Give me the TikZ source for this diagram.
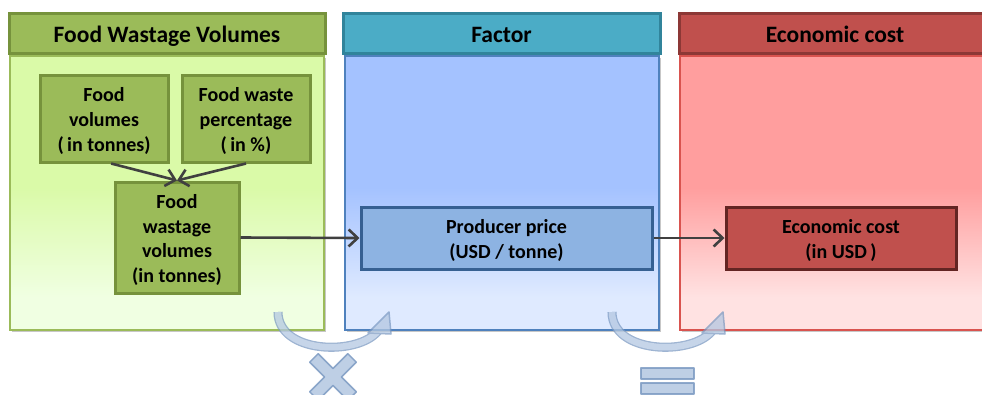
\documentclass[tikz,border=0pt]{standalone}
\usepackage{fontspec}
\setmainfont{Carlito}
\usetikzlibrary{arrows.meta,shadows}

% column palettes
\definecolor{grHead}{HTML}{9BBB59}
\definecolor{grHeadB}{HTML}{76923C}
\definecolor{grTop}{HTML}{DAFAA8}
\definecolor{grBot}{HTML}{F0FFE2}
\definecolor{grLine}{HTML}{9BBB59}
\definecolor{blHead}{HTML}{4BACC6}
\definecolor{blHeadB}{HTML}{31849B}
\definecolor{blTop}{HTML}{A4C2FF}
\definecolor{blBot}{HTML}{DFEAFF}
\definecolor{blLine}{HTML}{4F81BD}
\definecolor{blBox}{HTML}{8DB3E2}
\definecolor{blBoxB}{HTML}{366092}
\definecolor{rdHead}{HTML}{C0504D}
\definecolor{rdHeadB}{HTML}{8C3836}
\definecolor{rdTop}{HTML}{FF9E9E}
\definecolor{rdBot}{HTML}{FFE2E2}
\definecolor{rdLine}{HTML}{D9534F}
\definecolor{rdBoxB}{HTML}{632523}
\definecolor{connC}{HTML}{404040}
\definecolor{symFill}{HTML}{B3C7E1}
\definecolor{symLine}{HTML}{7D9BC3}

% body shadings: flat upper half, fading lighter towards the bottom
% (the path is mapped onto 25bp..75bp of the 100bp shading)
\pgfdeclareverticalshading{greenfade}{100bp}{color(0bp)=(grBot); color(31bp)=(grBot); color(51bp)=(grTop); color(100bp)=(grTop)}
\pgfdeclareverticalshading{bluefade}{100bp}{color(0bp)=(blBot); color(31bp)=(blBot); color(51bp)=(blTop); color(100bp)=(blTop)}
\pgfdeclareverticalshading{redfade}{100bp}{color(0bp)=(rdBot); color(31bp)=(rdBot); color(51bp)=(rdTop); color(100bp)=(rdTop)}

\tikzset{
  softshadow/.style={drop shadow={shadow xshift=1.5pt,shadow yshift=-2pt,opacity=0.22,fill=black}},
  header/.style={draw=#1, line width=3pt, rectangle, inner sep=0pt,
    font=\fontsize{23.5}{28}\selectfont\bfseries, text=black,
    text height=20pt, text depth=2pt},
  colbody/.style={rectangle, line width=1.5pt, inner sep=0pt, softshadow},
  itembox/.style={rectangle, line width=3pt, inner sep=0pt, softshadow},
  itemtext/.style={inner sep=0pt, align=center, yshift=-2.5pt,
    font=\fontsize{20}{24.6}\selectfont\bfseries, text=black},
  conn/.style={draw=connC, line width=2.6pt, -{Straight Barb[length=9pt,width=17pt]}},
  opsym/.style={draw=symLine, fill=symFill, line width=1.5pt, line join=round},
  curvshaft/.style={draw=symLine, line width=1.3pt, double=symFill, double distance=6.5pt},
}

\begin{document}
\begin{tikzpicture}[x=1pt,y=-1pt]
\useasboundingbox (0,0) rectangle (982,394);

% ---- column backgrounds ----
\node[colbody, draw=grLine, shading=greenfade,
      minimum width=314pt, minimum height=274pt] (gbody) at (167,193) {};
\node[colbody, draw=blLine, shading=bluefade,
      minimum width=314pt, minimum height=274pt] (bbody) at (502,193) {};
\node[colbody, draw=rdLine, shading=redfade,
      minimum width=316pt, minimum height=274pt] (rbody) at (838,193) {};

% ---- column headers ----
\node[header=grHeadB, fill=grHead, minimum width=316pt, minimum height=40pt] (ghead) at (167,33.5) {Food Wastage Volumes};
\node[header=blHeadB, fill=blHead, minimum width=317pt, minimum height=40pt] (bhead) at (501.5,33.5) {Factor};
\node[header=rdHeadB, fill=rdHead, minimum width=318pt, minimum height=40pt] (rhead) at (838,33.5) {\hspace*{-6pt}Economic cost};

% ---- item boxes ----
\node[itembox, draw=grHeadB, fill=grHead, minimum width=128pt, minimum height=87pt] (fv) at (104,118.5) {};
\node[itembox, draw=grHeadB, fill=grHead, minimum width=128pt, minimum height=87pt] (fp) at (246,118.5) {};
\node[itembox, draw=grHeadB, fill=grHead, minimum width=124pt, minimum height=111pt] (fwv) at (177,237.5) {};
\node[itembox, draw=blBoxB, fill=blBox, minimum width=291pt, minimum height=62pt] (pp) at (506.5,238) {};
\node[itembox, draw=rdBoxB, fill=rdHead, minimum width=230pt, minimum height=62pt] (ec) at (841,238) {};

% ---- item labels ----
\node[itemtext] (fvt) at (fv) {Food\\volumes\\(\,in tonnes)};
\node[itemtext] (fpt) at (fp) {Food waste\\percentage\\(\,in \%)};
\node[itemtext] (fwvt) at (fwv) {Food\\wastage\\volumes\\(in tonnes)};
\node[itemtext] (ppt) at (pp) {Producer price\\(USD / tonne)};
\node[itemtext] (ect) at (ec) {Economic cost\\(in USD\,)};

% ---- connectors ----
\draw[conn] (fv.-81) -- (fwv.north);
\draw[conn] (fp.south) -- (fwv.north);
\draw[conn] (fwv.east) -- (pp.west);
\draw[conn] (pp.east) -- (ec.west);

% ---- curved operator arrows ----
\begin{scope}[opacity=0.75, transparency group]
  \draw[curvshaft] (278,312) .. controls (278,354) and (358,356) .. (378,331);
  \draw[opsym] (368,333) -- (389,312) -- (391,334) -- cycle;
\end{scope}
\begin{scope}[opacity=0.75, transparency group, xshift=334pt]
  \draw[curvshaft] (278,312) .. controls (278,354) and (358,356) .. (378,331);
  \draw[opsym] (368,333) -- (389,312) -- (391,334) -- cycle;
\end{scope}

% ---- multiplication sign ----
\begin{scope}[shift={(333,377)}, rotate=45, opacity=0.85]
  \draw[opsym] (-27,-6) -- (-6,-6) -- (-6,-27) -- (6,-27) -- (6,-6) -- (27,-6)
        -- (27,6) -- (6,6) -- (6,27) -- (-6,27) -- (-6,6) -- (-27,6) -- cycle;
\end{scope}

% ---- equals sign ----
\begin{scope}[opacity=0.85]
  \draw[opsym] (641,368) rectangle (694,379);
  \draw[opsym] (641,383) rectangle (694,394);
\end{scope}
\end{tikzpicture}
\end{document}
